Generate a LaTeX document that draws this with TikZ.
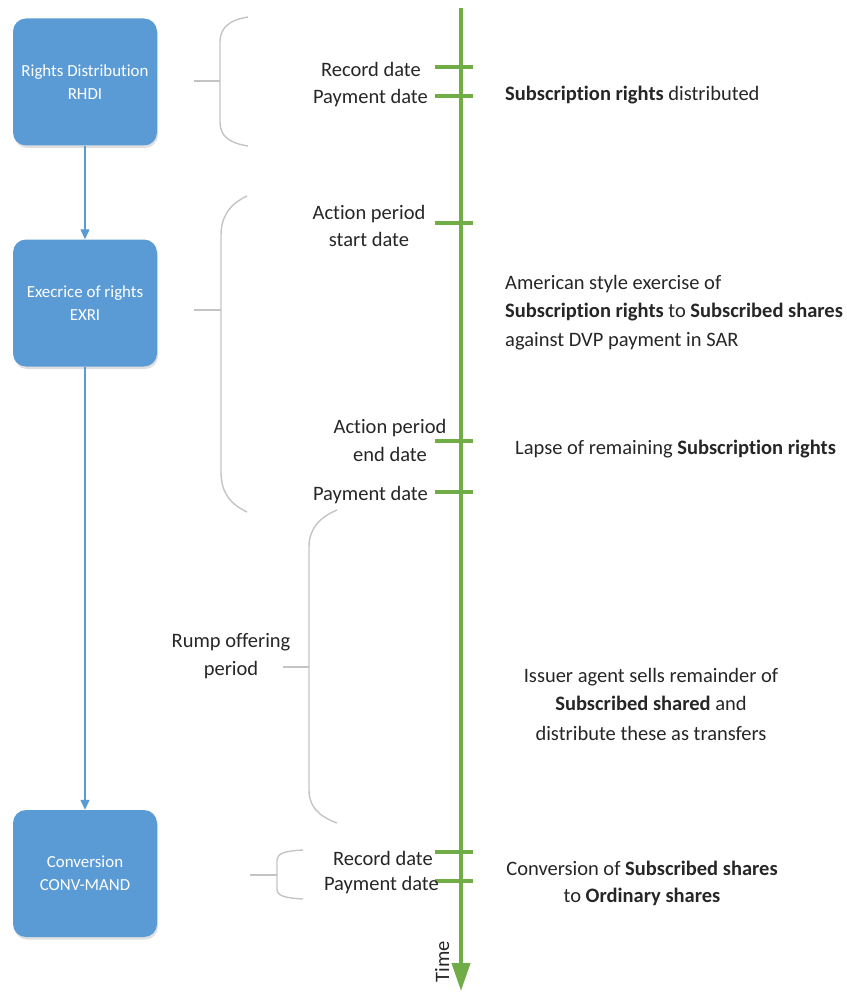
\documentclass[tikz,border=0pt]{standalone}
\usepackage{fontspec}
\setmainfont{Carlito}[RawFeature=-liga]
\usetikzlibrary{arrows.meta,shadows}
\definecolor{boxblue}{HTML}{5B9BD5}
\definecolor{tgreen}{HTML}{70AD47}
\definecolor{bgray}{HTML}{C4C4C4}
\definecolor{txt}{HTML}{262626}
\newcommand\lblfont{\fontsize{20.5}{28}\selectfont}
\newcommand\boxfont{\fontsize{16.9}{23}\selectfont}
\begin{document}
\begin{tikzpicture}[x=1pt,y=-1pt,
  evbox/.style={draw=none, fill=boxblue, rounded corners=13pt, minimum width=144pt, minimum height=127pt,
     text=white, align=center, font=\boxfont, inner sep=0pt,
     drop shadow={opacity=0.25, shadow xshift=1pt, shadow yshift=-2.5pt, fill=gray}},
  flow/.style={draw=boxblue, line width=1.3pt, -{Triangle[length=10pt,width=9pt]}},
  tl/.style={draw=tgreen, line width=4pt},
  tick/.style={draw=tgreen, line width=4pt},
  brace/.style={draw=bgray, line width=1.4pt},
  lbl/.style={text=txt, font=\lblfont, inner sep=0pt},
]
\useasboundingbox (0,0) rectangle (846,992);

% boxes
\node[evbox] (rhdi) at (85,82) {Rights Distribution\\RHDI};
\node[evbox] (exri) at (85,303) {Execrice of rights\\EXRI};
\node[evbox] (conv) at (85,873.5) {Conversion\\CONV-MAND};
\draw[flow] (rhdi) -- (exri);
\draw[flow] (exri) -- (conv);

% timeline
\coordinate (ttop) at (461,8);
\coordinate (tbot) at (461,991);
\draw[tl, -{Triangle[length=28pt,width=18pt]}] (ttop) -- (tbot);
\foreach \y in {67,96,223,441,492,852,881}
  \draw[tick] (435,\y) -- (473,\y);
\node[lbl, rotate=90, anchor=base] (time) at (449,962) {Time};

% braces
\draw[brace] (248,17) .. controls (229,20) and (220,28) .. (220,42) -- (220,122) .. controls (220,136) and (229,143) .. (248,146);
\draw[brace] (194,81) -- (220,81);
\draw[brace] (247,196) .. controls (228,205) and (221,218) .. (221,236) -- (221,472) .. controls (221,490) and (228,503) .. (247,512);
\draw[brace] (194,310) -- (221,310);
\draw[brace] (337,510) .. controls (318,518) and (309,530) .. (309,547) -- (309,790) .. controls (309,806) and (318,816) .. (337,823);
\draw[brace] (283,667) -- (309,667);
\draw[brace] (303,850) .. controls (285,851) and (277,853) .. (277,861) -- (277,889) .. controls (277,896) and (285,898) .. (303,899);
\draw[brace] (250,875) -- (277,875);

% left labels of timeline
\node[lbl, anchor=base east] (rd1) at (421,77) {Record date};
\node[lbl, anchor=base east] (pd1) at (428,104) {Payment date};
\node[lbl, anchor=base] (aps1) at (369,220) {Action period};
\node[lbl, anchor=base] (aps2) at (369,247) {start date};
\node[lbl, anchor=base] (ape1) at (390,433) {Action period};
\node[lbl, anchor=base] (ape2) at (390,461) {end date};
\node[lbl, anchor=base east] (pd2) at (428,500) {Payment date};
\node[lbl, anchor=base] (rump1) at (231,647) {Rump offering};
\node[lbl, anchor=base] (rump2) at (231,675) {period};
\node[lbl, anchor=base east] (rd3) at (433,865) {Record date};
\node[lbl, anchor=base east] (pd3) at (439,890) {Payment date};

% right descriptions
\node[lbl, anchor=base west] (d1) at (505,101) {\textbf{Subscription rights} distributed};
\node[lbl, anchor=base west] (d2a) at (505,289) {American style exercise of};
\node[lbl, anchor=base west] (d2b) at (505,317) {\textbf{Subscription rights} to \textbf{Subscribed shares}};
\node[lbl, anchor=base west] (d2c) at (505,346) {against DVP payment in SAR};
\node[lbl, anchor=base west] (d3) at (515,454) {Lapse of remaining \textbf{Subscription rights}};
\node[lbl, anchor=base] (d4a) at (651,682) {Issuer agent sells remainder of};
\node[lbl, anchor=base] (d4b) at (651,710) {\textbf{Subscribed shared} and};
\node[lbl, anchor=base] (d4c) at (651,740) {distribute these as transfers};
\node[lbl, anchor=base] (d5a) at (642,875) {Conversion of \textbf{Subscribed shares}};
\node[lbl, anchor=base] (d5b) at (642,902) {to \textbf{Ordinary shares}};
\end{tikzpicture}
\end{document}
